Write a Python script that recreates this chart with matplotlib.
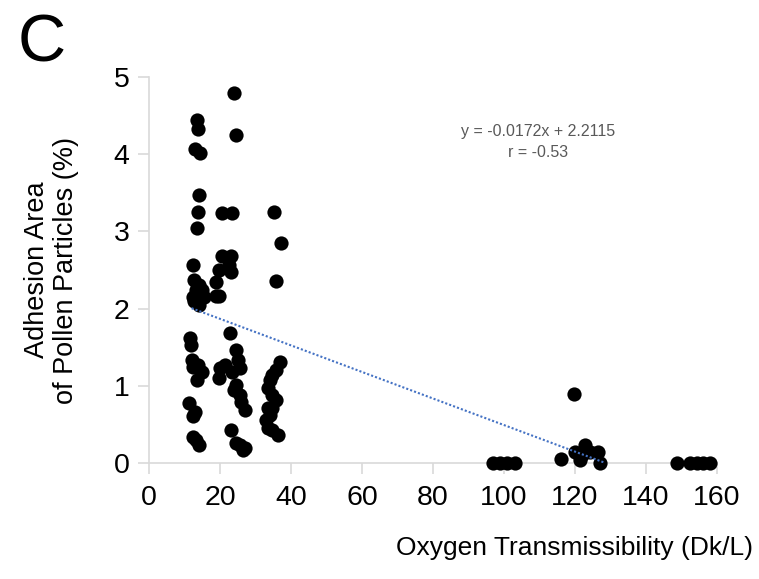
import matplotlib
matplotlib.use("Agg")
import matplotlib.pyplot as plt
import numpy as np

plt.rcParams['font.family'] = ['Liberation Sans', 'DejaVu Sans']

# Data
x_col1 = [12.9, 13.5, 13.8, 14.4, 14.1, 13.8, 13.5, 12.4, 12.7, 12.4, 13.2, 14.1, 14.9, 15.5, 12.7, 14.1,
          11.5, 11.8, 12.1, 12.4, 13.8, 14.9, 13.5, 11.3, 12.9, 12.4, 12.4, 14.1, 13.2]
y_col1 = [4.07, 4.44, 4.33, 4.01, 3.47, 3.25, 3.04, 2.56, 2.37, 2.15, 2.24, 2.30, 2.24, 2.15, 2.10, 2.05,
          1.62, 1.53, 1.33, 1.24, 1.27, 1.18, 1.07, 0.78, 0.66, 0.61, 0.34, 0.23, 0.30]
x_col2 = [23.9, 24.5, 20.6, 23.4, 20.6, 23.1, 19.7, 22.5, 23.1, 18.9, 19.7, 18.9, 22.8, 24.5, 25.1, 23.4,
          20.0, 21.4, 19.7, 25.6, 24.5, 23.9, 25.6, 25.9, 27.0, 23.1, 24.5, 25.6, 26.5, 27.0]
y_col2 = [4.79, 4.25, 3.24, 3.24, 2.68, 2.68, 2.50, 2.56, 2.47, 2.34, 2.16, 2.16, 1.68, 1.46, 1.33, 1.18,
          1.23, 1.27, 1.10, 1.23, 1.01, 0.95, 0.88, 0.79, 0.69, 0.43, 0.26, 0.23, 0.17, 0.19]
x_col3 = [35.2, 37.2, 35.8, 36.9, 35.8, 34.6, 34.1, 33.5, 34.6, 35.8, 34.6, 34.1, 33.0, 33.5, 34.6, 36.3, 33.5]
y_col3 = [3.25, 2.85, 2.36, 1.31, 1.20, 1.14, 1.07, 0.97, 0.88, 0.82, 0.71, 0.62, 0.56, 0.45, 0.43, 0.36, 0.71]
x_right = [96.9, 98.9, 100.8, 103.1, 116.0, 119.8, 120.0, 122.8, 122.0, 124.2, 126.5, 127.0, 121.4,
           148.7, 152.4, 154.4, 156.0, 158.0]
y_right = [0.0, 0.0, 0.0, 0.0, 0.05, 0.89, 0.14, 0.23, 0.10, 0.14, 0.14, 0.0, 0.04,
           0.0, 0.0, 0.0, 0.0, 0.0]

slope = -0.0172
intercept = 2.2115
trend_x = [12.0, 128.5]

x_ticks = [0, 20, 40, 60, 80, 100, 120, 140, 160]
y_ticks = [0, 1, 2, 3, 4, 5]

W, H = 759, 579
fig = plt.figure(figsize=(W/100, H/100), dpi=100)
ax = fig.add_axes([149/W, 1-463/H, (717-149)/W, (463-77)/H])

xs = x_col1 + x_col2 + x_col3 + x_right
ys = y_col1 + y_col2 + y_col3 + y_right
ax.scatter(xs, ys, s=105, color='black', zorder=3, linewidths=0, clip_on=False)

tx = np.array(trend_x)
ax.plot(tx, slope*tx + intercept, linestyle=(0, (1, 1)), color='#4472C4', lw=1.5, zorder=4)

ax.set_xlim(0, 160)
ax.set_ylim(0, 5)
ax.set_xticks(x_ticks)
ax.set_yticks(y_ticks)
ax.tick_params(axis='both', labelsize=20.5, color='#D9D9D9', length=8, width=1.2, direction='out')
ax.tick_params(axis='x', pad=8)
ax.tick_params(axis='y', pad=6)
for s in ['top', 'right']:
    ax.spines[s].set_visible(False)
for s in ['left', 'bottom']:
    ax.spines[s].set_color('#D9D9D9')
    ax.spines[s].set_linewidth(1.2)

ax.set_xlabel('Oxygen Transmissibility (Dk/L)', fontsize=19)
ax.xaxis.set_label_coords((574-149)/(717-149), -(536-463)/(463-77))
ax.set_ylabel('Adhesion Area\nof Pollen Particles (%)', fontsize=19.5, linespacing=1.15)
ax.yaxis.set_label_coords(-(149-79)/(717-149), 0.5)

fig.text(538/W, 1-142/H, 'y = -0.0172x + 2.2115\nr = -0.53', fontsize=11.5,
         color='#595959', ha='center', va='center', linespacing=1.45)
fig.text(42/W, 1-44/H, 'C', fontsize=48, ha='center', va='center')

fig.savefig('out.png', dpi=100)
